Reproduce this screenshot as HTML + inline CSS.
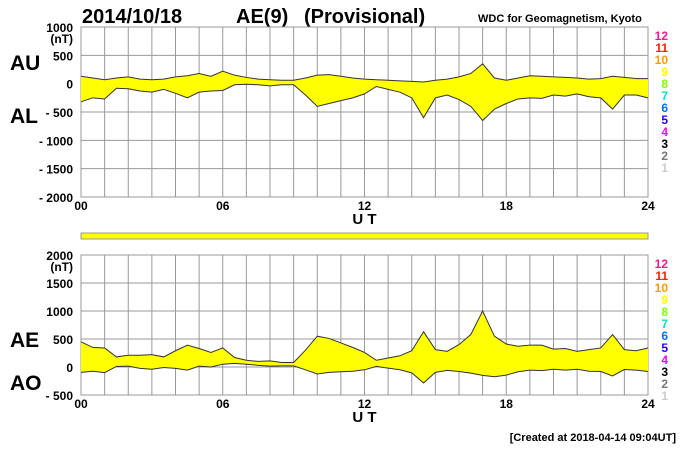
<!DOCTYPE html>
<html><head><meta charset="utf-8"><style>
body{margin:0;background:#fff;width:700px;height:450px;overflow:hidden}
svg{display:block;font-family:"Liberation Sans",sans-serif}
</style></head><body>
<svg id="s" width="700" height="450" viewBox="0 0 700 450">
<text x="82" y="23" font-size="20" font-weight="bold">2014/10/18</text>
<text x="236" y="23" font-size="20" font-weight="bold">AE(9)</text>
<text x="304" y="23" font-size="20" font-weight="bold">(Provisional)</text>
<text x="478" y="22" font-size="11" font-weight="bold">WDC for Geomagnetism, Kyoto</text>
<text x="10" y="70" font-size="21" font-weight="bold">AU</text>
<text x="10" y="123" font-size="21" font-weight="bold">AL</text>
<text x="10" y="347" font-size="21" font-weight="bold">AE</text>
<text x="10" y="390" font-size="21" font-weight="bold">AO</text>
<rect x="81" y="233" width="567" height="6" fill="#ffff00" stroke="#999" stroke-width="1"/>
<text x="676" y="441" font-size="11" font-weight="bold" text-anchor="end">[Created at 2018-04-14 09:04UT]</text>
<g id="g"></g>
</svg>
<script>
const hours = [0,0.5,1,1.5,2,2.5,3,3.5,4,4.5,5,5.5,6,6.5,7,7.5,8,8.5,9,9.5,10,10.5,11,11.5,12,12.5,13,13.5,14,14.5,15,15.5,16,16.5,17,17.5,18,18.5,19,19.5,20,20.5,21,21.5,22,22.5,23,23.5,24];
const auValues = [130,100,70,100,120,80,70,80,120,140,180,130,220,150,110,80,70,60,60,100,150,160,130,100,80,70,60,50,40,30,60,80,120,180,350,100,60,100,140,130,120,110,100,80,90,130,110,90,90];
const alValues = [-320,-250,-270,-80,-90,-130,-150,-100,-170,-250,-150,-130,-120,-20,-10,-20,-40,-20,-20,-200,-400,-350,-300,-250,-180,-50,-100,-150,-250,-600,-250,-200,-280,-400,-650,-450,-350,-270,-250,-260,-200,-220,-180,-230,-250,-450,-200,-200,-250];
const topTicks = ["1000","500","0","- 500","- 1000","- 1500","- 2000"];
const topTickVals = [1000,500,0,-500,-1000,-1500,-2000];
const botTicks = ["2000","1500","1000","500","0","- 500"];
const botTickVals = [2000,1500,1000,500,0,-500];
const xTicks = ["00","06","12","18","24"];
const xTickVals = [0,6,12,18,24];
const stationLabels = ["12","11","10","9","8","7","6","5","4","3","2","1"];
const stationColors = ["#ff1493","#ff2000","#ff9900","#ffff00","#80ff00","#00e5c0","#0070ff","#2000ff","#ff00ff","#000","#777","#ccc"];

const NS="http://www.w3.org/2000/svg";
const g=document.getElementById('g');
const X0=81,X1=648;
const x=h=>X0+(X1-X0)*h/24;
function mk(t,a){const e=document.createElementNS(NS,t);for(const k in a)e.setAttribute(k,a[k]);g.appendChild(e);return e;}

function panel(top,bot,vmax,vmin,tickVals,ticks,upper,lower,pfx){
  const y=v=>top+(bot-top)*(vmax-v)/(vmax-vmin);
  const fr=mk('rect',{x:X0,y:top,width:X1-X0,height:bot-top,fill:'#fff',stroke:'#999'});
  
  
  for(let h=1;h<24;h++){const l=mk('line',{x1:x(h),x2:x(h),y1:top,y2:bot,stroke:'#999','stroke-width':1});
    
    }
  tickVals.forEach((v,i)=>{
    const l=mk('line',{x1:X0,x2:X1,y1:y(v),y2:y(v),stroke:'#999','stroke-width':1});
    
    
    const t=mk('text',{x:73,y:y(v)+5,'font-size':12,'font-weight':'bold','text-anchor':'end'});
    t.textContent=ticks[i];
    
    
  });
  const u=mk('text',{x:73,y:top+16,'font-size':12,'font-weight':'bold','text-anchor':'end'});u.textContent='(nT)';
  
  
  let pts=hours.map((h,i)=>x(h)+','+y(upper[i]));
  let pts2=hours.map((h,i)=>x(h)+','+y(lower[i])).reverse();
  const p=mk('polygon',{points:pts.concat(pts2).join(' '),fill:'#ffff00',stroke:'none'});
  
  
  const l1=mk('polyline',{points:pts.join(' '),fill:'none',stroke:'#333','stroke-width':1});
  
  
  const l2=mk('polyline',{points:pts2.join(' '),fill:'none',stroke:'#333','stroke-width':1});
  
  
  xTickVals.forEach((h,i)=>{const t=mk('text',{x:x(h),y:bot+13,'font-size':12,'font-weight':'bold','text-anchor':'middle'});t.textContent=xTicks[i];
    
    });
  const ut=mk('text',{x:x(12),y:bot+27,'font-size':15,'font-weight':'bold','text-anchor':'middle'});ut.textContent='U T';
  
  
  stationLabels.forEach((s,i)=>{const t=mk('text',{x:668,y:top+13+i*12,'font-size':12,'font-weight':'bold','text-anchor':'end',fill:stationColors[i]});t.textContent=s;
    
    });
}
panel(27,197,1000,-2000,topTickVals,topTicks,auValues,alValues,'au-al');
const aeValues=auValues.map((v,i)=>v-alValues[i]);
const aoValues=auValues.map((v,i)=>(v+alValues[i])/2);
panel(255,395,2000,-500,botTickVals,botTicks,aeValues,aoValues,'ae-ao');
</script>
</body></html>
